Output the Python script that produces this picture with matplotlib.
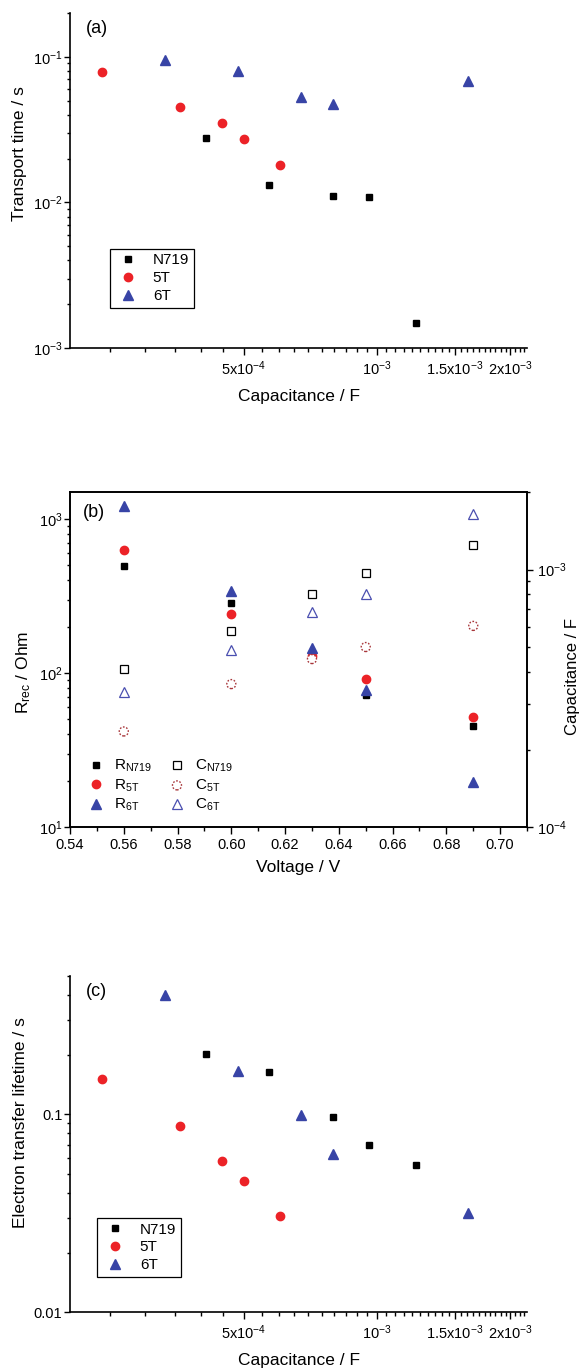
import matplotlib
matplotlib.use('Agg')
import matplotlib.pyplot as plt
from matplotlib.ticker import FixedLocator, FixedFormatter, LogLocator, NullFormatter

plt.rcParams['font.family'] = ['Liberation Sans', 'DejaVu Sans']
plt.rcParams['mathtext.fontset'] = 'custom'
plt.rcParams['mathtext.rm'] = 'Liberation Sans'
plt.rcParams['mathtext.default'] = 'regular'
plt.rcParams['axes.unicode_minus'] = False

# (a) transport time vs capacitance
cap_n719 = [4.12e-4, 5.70e-4, 7.95e-4, 9.59e-4, 1.224e-3]
cap_5t = [2.40e-4, 3.60e-4, 4.48e-4, 5.00e-4, 6.03e-4]
cap_6t = [3.33e-4, 4.85e-4, 6.73e-4, 7.95e-4, 1.606e-3]
tr_n719 = [0.0278, 0.0132, 0.0111, 0.0109, 0.00149]
tr_5t = [0.0788, 0.0453, 0.0352, 0.0273, 0.0181]
tr_6t = [0.0954, 0.080, 0.0531, 0.0475, 0.0684]

# (b) recombination resistance and capacitance vs voltage
volt = [0.56, 0.60, 0.63, 0.65, 0.69]
r_n719 = [496, 286, 132, 71.5, 45]
r_5t = [630, 243, 130, 92.1, 51.5]
r_6t = [1214, 342, 146, 78.2, 19.5]
c_n719 = [4.1e-4, 5.78e-4, 8.06e-4, 9.7e-4, 1.24e-3]
c_5t = [2.35e-4, 3.59e-4, 4.49e-4, 5.0e-4, 6.04e-4]
c_6t = [3.34e-4, 4.87e-4, 6.85e-4, 8.06e-4, 1.64e-3]

# (c) electron lifetime vs capacitance
lt_n719 = [0.203, 0.163, 0.0966, 0.0697, 0.0553]
lt_5t = [0.150, 0.087, 0.0579, 0.0459, 0.0305]
lt_6t = [0.399, 0.165, 0.0988, 0.0628, 0.0316]

cap_major = [5e-4, 1e-3, 1.5e-3, 2e-3]
cap_labels = ['5x$10^{-4}$', '$10^{-3}$', '1.5x$10^{-3}$', '2x$10^{-3}$']
cap_minor = [k * 0.5e-4 for k in range(4, 44)]

RED = '#ec2227'
BLUE = '#3844a6'
FS_TICK = 10.5
FS_LAB = 12.5

fig = plt.figure(figsize=(5.81, 13.69), dpi=100)
ax_a = fig.add_axes([0.1205, 0.7458, 0.7866, 0.2447])
ax_b = fig.add_axes([0.1205, 0.3959, 0.7866, 0.2447])
ax_c = fig.add_axes([0.1205, 0.0416, 0.7866, 0.2454])


def style_ticks(ax):
    ax.tick_params(axis='x', which='major', direction='out', length=5, width=1, pad=3, labelsize=FS_TICK)
    ax.tick_params(axis='x', which='minor', direction='out', length=3, width=1)
    ax.tick_params(axis='y', which='major', direction='out', length=4, width=1, pad=1.5, labelsize=FS_TICK)
    ax.tick_params(axis='y', which='minor', direction='out', length=2.5, width=1)


def cap_panel(ax, y_n, y_5, y_6, ylab, tag, ly):
    ax.plot(cap_n719, y_n, 's', color='black', ms=5, label='N719')
    ax.plot(cap_5t, y_5, 'o', color=RED, ms=6, label='5T')
    ax.plot(cap_6t, y_6, '^', color=BLUE, ms=7, label='6T')
    ax.set_xscale('log')
    ax.set_yscale('log')
    ax.set_xlim(2.03e-4, 2.18e-3)
    ax.xaxis.set_major_locator(FixedLocator(cap_major))
    ax.xaxis.set_major_formatter(FixedFormatter(cap_labels))
    ax.xaxis.set_minor_locator(FixedLocator([v for v in cap_minor if v not in cap_major]))
    ax.xaxis.set_minor_formatter(NullFormatter())
    ax.yaxis.set_minor_locator(LogLocator(base=10, subs=range(2, 10)))
    ax.yaxis.set_minor_formatter(NullFormatter())
    for s in ['top', 'right']:
        ax.spines[s].set_visible(False)
    for s in ['left', 'bottom']:
        ax.spines[s].set_linewidth(1.2)
    style_ticks(ax)
    ax.set_xlabel('Capacitance / F', fontsize=FS_LAB, labelpad=8)
    ax.set_ylabel(ylab, fontsize=FS_LAB, labelpad=4)
    ax.yaxis.label.set_y(ly)
    ax.text(0.035, 0.955, tag, transform=ax.transAxes, fontsize=13, ha='left', va='center')


cap_panel(ax_a, tr_n719, tr_5t, tr_6t, 'Transport time / s', '(a)', 0.58)
ax_a.set_ylim(1e-3, 0.2)
leg = ax_a.legend(loc='upper left', bbox_to_anchor=(0.0875, 0.296), fontsize=11,
                  fancybox=False, edgecolor='black', framealpha=1, borderaxespad=0,
                  handletextpad=0.7, borderpad=0.3, labelspacing=0.25, handlelength=1.8)
leg.get_frame().set_linewidth(0.9)

cap_panel(ax_c, lt_n719, lt_5t, lt_6t, 'Electron transfer lifetime / s', '(c)', 0.565)
ax_c.set_ylim(0.01, 0.5)
ax_c.yaxis.set_major_locator(FixedLocator([0.01, 0.1]))
ax_c.yaxis.set_major_formatter(FixedFormatter(['0.01', '0.1']))
leg = ax_c.legend(loc='upper left', bbox_to_anchor=(0.059, 0.28), fontsize=11,
                  fancybox=False, edgecolor='black', framealpha=1, borderaxespad=0,
                  handletextpad=0.7, borderpad=0.3, labelspacing=0.25, handlelength=1.8)
leg.get_frame().set_linewidth(0.9)

# (b)
ax_b2 = ax_b.twinx()
h1, = ax_b.plot(volt, r_n719, 's', color='black', ms=5)
h2, = ax_b.plot(volt, r_5t, 'o', color=RED, ms=6)
h3, = ax_b.plot(volt, r_6t, '^', color=BLUE, ms=7)
h4, = ax_b2.plot(volt, c_n719, 's', mfc='white', mec='black', mew=0.9, ms=6)
h5 = ax_b2.scatter(volt, c_5t, s=42, marker='o', facecolors='white',
                   edgecolors='#a8363a', linewidths=1.0, linestyle=(0, (1.2, 1.2)))
h6, = ax_b2.plot(volt, c_6t, '^', mfc='white', mec='#4a4fb0', mew=0.9, ms=7.5)
ax_b.set_yscale('log')
ax_b2.set_yscale('log')
ax_b.set_xlim(0.54, 0.71)
ax_b.set_ylim(10, 1500)
ax_b2.set_ylim(1e-4, 2e-3)
ax_b.xaxis.set_major_locator(FixedLocator([0.54 + 0.02 * i for i in range(9)]))
ax_b.xaxis.set_major_formatter(FixedFormatter(['%.2f' % (0.54 + 0.02 * i) for i in range(9)]))
ax_b.xaxis.set_minor_locator(FixedLocator([0.55 + 0.02 * i for i in range(9)]))
ax_b.yaxis.set_minor_locator(LogLocator(base=10, subs=range(2, 10)))
ax_b.yaxis.set_minor_formatter(NullFormatter())
ax_b2.yaxis.set_minor_locator(LogLocator(base=10, subs=range(2, 10)))
ax_b2.yaxis.set_minor_formatter(NullFormatter())
for a in (ax_b, ax_b2):
    for s in a.spines.values():
        s.set_linewidth(1.2)
    style_ticks(a)
ax_b2.tick_params(axis='y', which='major', pad=3)
ax_b.set_xlabel('Voltage / V', fontsize=FS_LAB, labelpad=6)
ax_b.set_ylabel('R$_{rec}$ / Ohm', fontsize=FS_LAB, labelpad=4)
ax_b.yaxis.label.set_y(0.46)
ax_b2.set_ylabel('Capacitance / F', fontsize=12)
ax_b2.yaxis.set_label_coords(1.082, 0.45)
ax_b2.text(0.028, 0.94, '(b)', transform=ax_b.transAxes, fontsize=13, ha='left', va='center')
ax_b2.legend([h1, h2, h3, h4, h5, h6],
             ['R$_{N719}$', 'R$_{5T}$', 'R$_{6T}$', 'C$_{N719}$', 'C$_{5T}$', 'C$_{6T}$'],
             ncol=2, loc='lower left', bbox_to_anchor=(0.0, 0.0), frameon=False, fontsize=11,
             handletextpad=0.4, columnspacing=0.8, labelspacing=0.2, handlelength=1.6)

fig.savefig('out.png', dpi=100)
